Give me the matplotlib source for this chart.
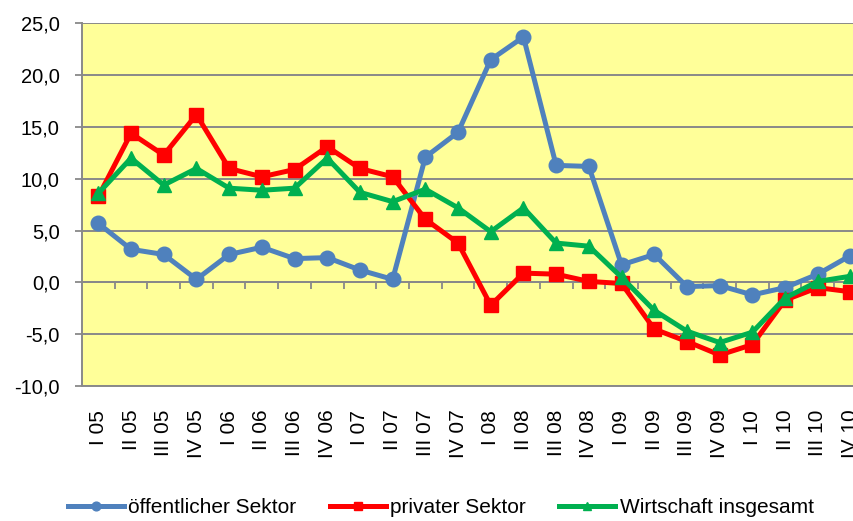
import numpy as np
import matplotlib.pyplot as plt

plt.rcParams['font.family'] = ['Liberation Sans', 'DejaVu Sans']

quartale = ['I 05', 'II 05', 'III 05', 'IV 05',
            'I 06', 'II 06', 'III 06', 'IV 06',
            'I 07', 'II 07', 'III 07', 'IV 07',
            'I 08', 'II 08', 'III 08', 'IV 08',
            'I 09', 'II 09', 'III 09', 'IV 09',
            'I 10', 'II 10', 'III 10', 'IV 10']

oeffentlich = [5.7, 3.2, 2.7, 0.3, 2.7, 3.4, 2.3, 2.4, 1.2, 0.3, 12.1, 14.5,
               21.5, 23.7, 11.3, 11.2, 1.7, 2.7, -0.4, -0.3, -1.2, -0.5, 0.8, 2.6]
privat = [8.3, 14.4, 12.3, 16.2, 11.0, 10.2, 10.9, 13.1, 11.0, 10.2, 6.1, 3.8,
          -2.2, 0.9, 0.8, 0.1, -0.1, -4.5, -5.7, -7.0, -6.0, -1.7, -0.5, -0.9]
insgesamt = [8.6, 12.0, 9.4, 11.0, 9.1, 8.9, 9.1, 12.0, 8.7, 7.8, 9.0, 7.2,
             4.9, 7.2, 3.8, 3.5, 0.5, -2.7, -4.7, -5.8, -4.8, -1.5, 0.1, 0.6]

yticks = [-10, -5, 0, 5, 10, 15, 20, 25]
ytick_labels = ['-10,0', '-5,0', '0,0', '5,0', '10,0', '15,0', '20,0', '25,0']

grau = '#898989'

fig = plt.figure(figsize=(8.54, 5.21), dpi=100)
ax = fig.add_axes([0.096, 0.259, 0.919, 0.696])
ax.set_facecolor('#FFFF99')

x = np.arange(len(quartale))
l1, = ax.plot(x, oeffentlich, color='#4F81BD', lw=3.6, marker='o', ms=10.5,
              label='öffentlicher Sektor', zorder=3)
l2, = ax.plot(x, privat, color='#FF0000', lw=3.6, marker='s', ms=9.5,
              label='privater Sektor', zorder=4)
l3, = ax.plot(x, insgesamt, color='#00B050', lw=3.6, marker='^', ms=10,
              label='Wirtschaft insgesamt', zorder=5)

ax.set_xlim(-0.5, len(quartale) - 0.5)
ax.set_ylim(-10, 25)
ax.set_yticks(yticks)
ax.set_yticklabels(ytick_labels, fontsize=14.5)
ax.tick_params(axis='y', length=5, width=1.3, color=grau, pad=11)
ax.yaxis.grid(True, color=grau, lw=1.4, zorder=1)
ax.set_axisbelow(True)

for s in ['top', 'right']:
    ax.spines[s].set_visible(False)
ax.spines['left'].set_color(grau)
ax.spines['left'].set_linewidth(1.4)
ax.spines['bottom'].set_position(('data', 0))
ax.spines['bottom'].set_color(grau)
ax.spines['bottom'].set_linewidth(1.4)

# Teilstriche an der Nulllinie zwischen den Quartalen
ax.set_xticks([])
ax.set_xticks(x[:-1] + 0.5, minor=True)
ax.tick_params(axis='x', which='minor', length=5, width=1.3, color=grau,
               labelbottom=False)

sec = ax.secondary_xaxis('bottom')
sec.set_xticks(x)
sec.set_xticklabels(quartale, rotation=90, fontsize=15)
sec.tick_params(length=0, pad=17)
sec.spines['bottom'].set_color(grau)
sec.spines['bottom'].set_linewidth(1.4)

fig.legend(handles=[l1, l2, l3], loc='center', bbox_to_anchor=(0.516, 0.025),
           ncol=3, frameon=False, fontsize=15, markerscale=0.6,
           handlelength=2.7, handletextpad=0.2, columnspacing=1.6)

fig.savefig('out.png', dpi=100)
